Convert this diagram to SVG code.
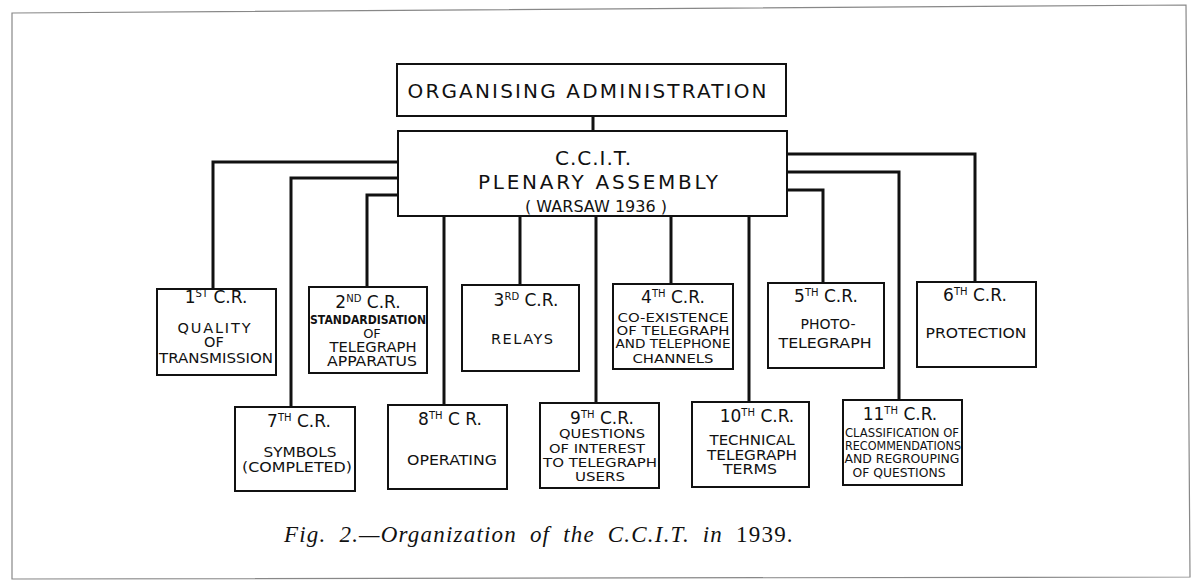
<svg xmlns="http://www.w3.org/2000/svg" width="1194" height="580" viewBox="0 0 1194 580">
<style>
.box{fill:#fff;stroke:#111;stroke-width:2}
.con{fill:none;stroke:#111;stroke-width:3}
text{font-family:"DejaVu Sans","Liberation Sans",sans-serif;fill:#111;text-anchor:middle}
.t{font-size:17px}
.b{font-size:14.5px}
.s{font-size:13px}
.sup{font-size:10px}
.cap{font-family:"Liberation Serif","DejaVu Serif",serif;font-size:23px;letter-spacing:1.2px;word-spacing:6px;text-anchor:start}
</style>
<rect width="1194" height="580" fill="#fff"/>
<polygon points="12,13 1186,5 1190,577 12,579" fill="none" stroke="#888" stroke-width="1.2"/>
<g id="connectors">
<path class="con" d="M593,116 V131"/>
<path class="con" d="M398,162 H213 V289"/>
<path class="con" d="M398,178 H291 V407"/>
<path class="con" d="M398,195 H367 V287"/>
<path class="con" d="M444,216 V405"/>
<path class="con" d="M520,216 V285"/>
<path class="con" d="M596,216 V403"/>
<path class="con" d="M671,216 V284"/>
<path class="con" d="M749,216 V402"/>
<path class="con" d="M787,190 H823 V283"/>
<path class="con" d="M787,172 H899 V400"/>
<path class="con" d="M787,154 H975 V282"/>
</g>
<g id="org">
<rect class="box" x="397" y="64" width="389" height="52"/>
<text x="587" y="98" font-size="20" textLength="359" lengthAdjust="spacing">ORGANISING  ADMINISTRATION</text>
</g>
<g id="plenary">
<rect class="box" x="398" y="131" width="389" height="85"/>
<text x="593" y="165" font-size="20" textLength="76" lengthAdjust="spacing">C.C.I.T.</text>
<text x="598" y="189" font-size="20" textLength="240" lengthAdjust="spacing">PLENARY ASSEMBLY</text>
<text x="596" y="212" font-size="16" textLength="142" lengthAdjust="spacing">( WARSAW 1936 )</text>
</g>
<g id="cr1">
<rect class="box" x="157" y="289" width="119" height="86"/>
<text class="t" x="216" y="303">1<tspan class="sup" dy="-6">ST</tspan><tspan dy="6"> C.R.</tspan></text>
<text class="b" x="214" y="333" textLength="73" lengthAdjust="spacing">QUALITY</text>
<text class="b" x="214" y="347">OF</text>
<text class="b" x="216" y="363" textLength="114" lengthAdjust="spacingAndGlyphs">TRANSMISSION</text>
</g>
<g id="cr2">
<rect class="box" x="309" y="287" width="118" height="86"/>
<text class="t" x="368" y="308">2<tspan class="sup" dy="-6">ND</tspan><tspan dy="6"> C.R.</tspan></text>
<text x="368" y="324" font-size="11.5" font-weight="bold" textLength="116" lengthAdjust="spacingAndGlyphs">STANDARDISATION</text>
<text class="s" x="372" y="338">OF</text>
<text class="b" x="373" y="352" textLength="87" lengthAdjust="spacingAndGlyphs">TELEGRAPH</text>
<text class="b" x="372" y="366" textLength="90" lengthAdjust="spacingAndGlyphs">APPARATUS</text>
</g>
<g id="cr3">
<rect class="box" x="462" y="285" width="117" height="86"/>
<text class="t" x="526" y="306">3<tspan class="sup" dy="-6">RD</tspan><tspan dy="6"> C.R.</tspan></text>
<text class="b" x="522" y="344" textLength="62" lengthAdjust="spacing">RELAYS</text>
</g>
<g id="cr4">
<rect class="box" x="613" y="284" width="120" height="85"/>
<text class="t" x="673" y="303">4<tspan class="sup" dy="-6">TH</tspan><tspan dy="6"> C.R.</tspan></text>
<text class="s" x="673" y="322" textLength="111" lengthAdjust="spacingAndGlyphs">CO-EXISTENCE</text>
<text class="s" x="673" y="335" textLength="113" lengthAdjust="spacingAndGlyphs">OF TELEGRAPH</text>
<text class="s" x="673" y="348" textLength="115" lengthAdjust="spacingAndGlyphs">AND TELEPHONE</text>
<text class="s" x="673" y="363" textLength="81" lengthAdjust="spacingAndGlyphs">CHANNELS</text>
</g>
<g id="cr5">
<rect class="box" x="768" y="283" width="116" height="85"/>
<text class="t" x="826" y="302">5<tspan class="sup" dy="-6">TH</tspan><tspan dy="6"> C.R.</tspan></text>
<text class="b" x="828" y="329" textLength="55" lengthAdjust="spacingAndGlyphs">PHOTO-</text>
<text class="b" x="825" y="348" textLength="93" lengthAdjust="spacingAndGlyphs">TELEGRAPH</text>
</g>
<g id="cr6">
<rect class="box" x="917" y="282" width="119" height="85"/>
<text class="t" x="975" y="301">6<tspan class="sup" dy="-6">TH</tspan><tspan dy="6"> C.R.</tspan></text>
<text class="b" x="976" y="338" textLength="101" lengthAdjust="spacingAndGlyphs">PROTECTION</text>
</g>
<g id="cr7">
<rect class="box" x="235" y="407" width="120" height="84"/>
<text class="t" x="299" y="427">7<tspan class="sup" dy="-6">TH</tspan><tspan dy="6"> C.R.</tspan></text>
<text class="b" x="300" y="457" textLength="73" lengthAdjust="spacingAndGlyphs">SYMBOLS</text>
<text class="b" x="297" y="472" textLength="110" lengthAdjust="spacingAndGlyphs">(COMPLETED)</text>
</g>
<g id="cr8">
<rect class="box" x="388" y="405" width="119" height="84"/>
<text class="t" x="450" y="425">8<tspan class="sup" dy="-6">TH</tspan><tspan dy="6"> C R.</tspan></text>
<text class="b" x="452" y="465" textLength="90" lengthAdjust="spacingAndGlyphs">OPERATING</text>
</g>
<g id="cr9">
<rect class="box" x="540" y="403" width="119" height="85"/>
<text class="t" x="602" y="424">9<tspan class="sup" dy="-6">TH</tspan><tspan dy="6"> C.R.</tspan></text>
<text class="s" x="602" y="438" textLength="86" lengthAdjust="spacingAndGlyphs">QUESTIONS</text>
<text class="s" x="597" y="453" textLength="96" lengthAdjust="spacingAndGlyphs">OF INTEREST</text>
<text class="s" x="600" y="467" textLength="114" lengthAdjust="spacingAndGlyphs">TO TELEGRAPH</text>
<text class="s" x="600" y="481" textLength="50" lengthAdjust="spacingAndGlyphs">USERS</text>
</g>
<g id="cr10">
<rect class="box" x="692" y="402" width="117" height="85"/>
<text class="t" x="757" y="422">10<tspan class="sup" dy="-6">TH</tspan><tspan dy="6"> C.R.</tspan></text>
<text class="b" x="752" y="445" textLength="85" lengthAdjust="spacingAndGlyphs">TECHNICAL</text>
<text class="b" x="752" y="460" textLength="90" lengthAdjust="spacingAndGlyphs">TELEGRAPH</text>
<text class="b" x="750" y="474" textLength="54" lengthAdjust="spacingAndGlyphs">TERMS</text>
</g>
<g id="cr11">
<rect class="box" x="843" y="400" width="119" height="85"/>
<text class="t" x="900" y="420">11<tspan class="sup" dy="-6">TH</tspan><tspan dy="6"> C.R.</tspan></text>
<text class="s" x="902" y="437" textLength="114" lengthAdjust="spacingAndGlyphs">CLASSIFICATION OF</text>
<text class="s" x="903" y="450" textLength="116" lengthAdjust="spacingAndGlyphs">RECOMMENDATIONS</text>
<text class="s" x="902" y="463" textLength="115" lengthAdjust="spacingAndGlyphs">AND REGROUPING</text>
<text class="s" x="899" y="477" textLength="93" lengthAdjust="spacingAndGlyphs">OF QUESTIONS</text>
</g>
<g id="caption">
<text class="cap" x="284" y="542" font-style="italic">Fig. 2.—Organization of the C.C.I.T. in <tspan font-style="normal">1939.</tspan></text>
</g>
</svg>
